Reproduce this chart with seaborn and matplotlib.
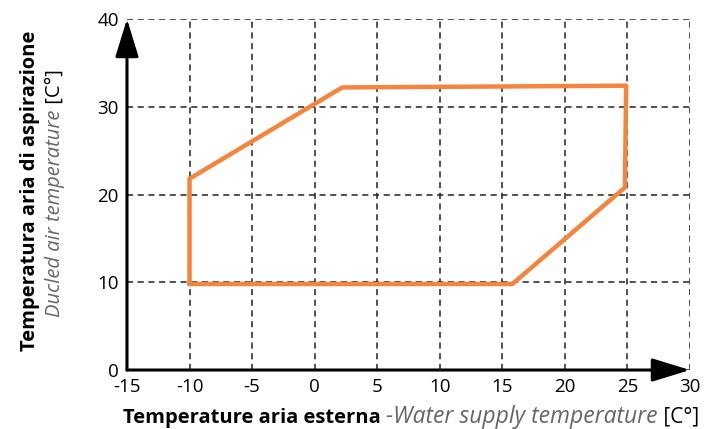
import matplotlib
matplotlib.use("Agg")
import matplotlib.pyplot as plt
import seaborn as sns
import pandas as pd

# Data: envelope polygon (closed)
env_x = [-10.0, 15.8, 24.8, 24.9, 2.2, -10.0, -10.0]
env_y = [9.8, 9.8, 20.8, 32.4, 32.2, 21.8, 9.8]
x_ticks = [-15, -10, -5, 0, 5, 10, 15, 20, 25, 30]
y_ticks = [0, 10, 20, 30, 40]

sns.set_style("white")
plt.rcParams['font.family'] = ['Open Sans', 'DejaVu Sans']
plt.rcParams['axes.unicode_minus'] = False

fig = plt.figure(figsize=(7.15, 4.29), dpi=100)
ax = fig.add_axes([0.1776, 0.1375, 0.7874, 0.8182])

df = pd.DataFrame({"x": env_x, "y": env_y, "order": range(len(env_x))})
sns.lineplot(data=df, x="x", y="y", sort=False, estimator=None, ax=ax,
             color="#F5843C", lw=3.2, zorder=3)

ax.set_xlim(-15, 30)
ax.set_ylim(0, 40)
ax.set_xticks(x_ticks)
ax.set_yticks(y_ticks)
ax.tick_params(axis='both', length=0, labelsize=13.5, colors='black', pad=6)
ax.grid(True, color='#222222', ls=(0, (4, 3)), lw=1.1)
for s in ax.spines.values():
    s.set_visible(False)
ax.set_xlabel("")
ax.set_ylabel("")

# axis arrows
style = '-|>,head_length=1.3,head_width=0.4'
ax.annotate("", xy=(0, 1), xytext=(0, 0), xycoords='axes fraction',
            arrowprops=dict(arrowstyle=style, color='black', lw=2.2,
                            mutation_scale=18, shrinkA=0, shrinkB=0), zorder=5)
ax.annotate("", xy=(1, 0), xytext=(0, 0), xycoords='axes fraction',
            arrowprops=dict(arrowstyle=style, color='black', lw=2.2,
                            mutation_scale=18, shrinkA=0, shrinkB=0), zorder=5)

# composite labels
fig.canvas.draw()
r = fig.canvas.get_renderer()
W, H = fig.bbox.width, fig.bbox.height

FS = 14.5
# x label
parts = [("Temperature aria esterna ", 'bold', 'normal', 'black', FS),
         ("-Water supply temperature", 'normal', 'italic', '#666666', 16.5),
         (" [C°]", 'normal', 'normal', 'black', 15)]
texts = []
tot = 0
for s, w, st, c, fs in parts:
    t = fig.text(0, 0, s, fontsize=fs, fontweight=w, fontstyle=st, color=c,
                 ha='left', va='baseline')
    wd = t.get_window_extent(r).width
    texts.append((t, wd))
    tot += wd
x0 = 123
for t, wd in texts:
    t.set_position((x0 / W, 1 - 423 / H))
    x0 += wd

# y label line 1
fig.text(30 / W, 1 - 191 / H, "Temperatura aria di aspirazione", fontsize=FS,
         fontweight='bold', rotation=90, ha='center', va='center', color='black')
# y label line 2
parts2 = [("Ducled air temperature", 'normal', 'italic', '#666666'),
          (" [C°]", 'normal', 'normal', 'black')]
texts2 = []
tot = 0
for s, w, st, c in parts2:
    t = fig.text(0, 0, s, fontsize=FS, fontweight=w, fontstyle=st, color=c,
                 rotation=90, ha='center', va='bottom')
    h = t.get_window_extent(r).height
    texts2.append((t, h))
    tot += h
y0 = 193 + tot / 2
for t, h in texts2:
    t.set_position((55 / W, 1 - y0 / H))
    y0 -= h

fig.savefig("out.png", dpi=100)
